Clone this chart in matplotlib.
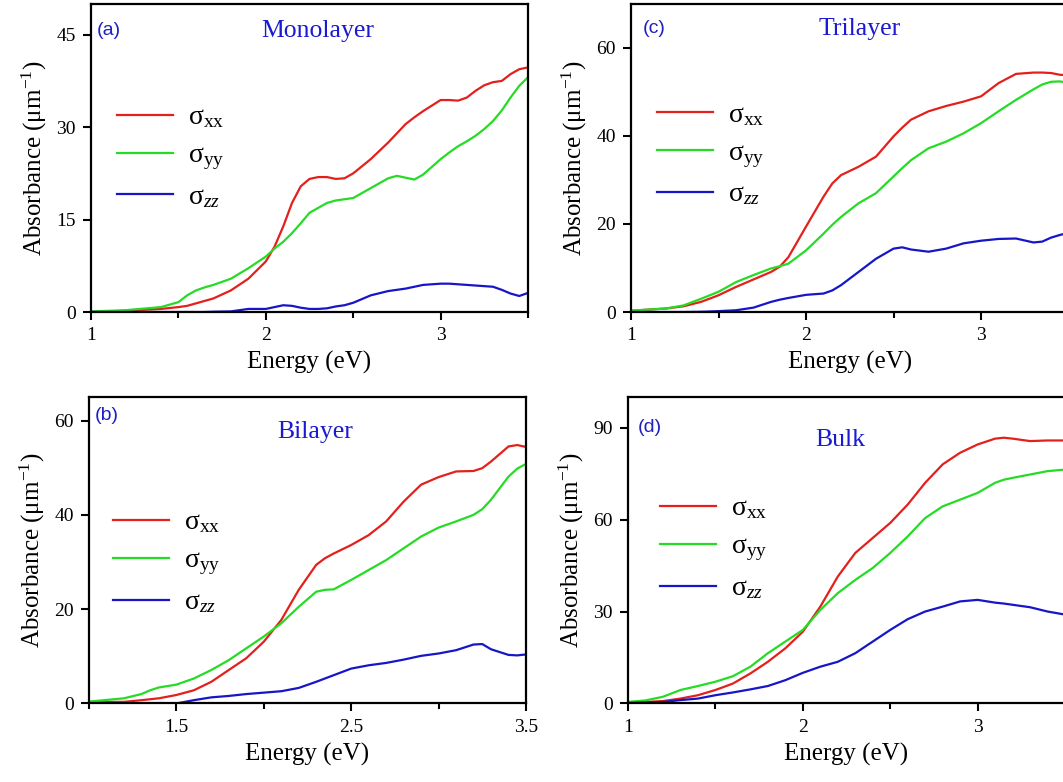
import numpy as np
import matplotlib
matplotlib.use("Agg")
import matplotlib.pyplot as plt
from matplotlib.ticker import MultipleLocator

plt.rcParams['font.family'] = ['Liberation Serif', 'DejaVu Serif']
plt.rcParams['mathtext.fontset'] = 'custom'
plt.rcParams['mathtext.rm'] = 'Liberation Serif'
plt.rcParams['mathtext.it'] = 'Liberation Serif:italic'
plt.rcParams['mathtext.bf'] = 'Liberation Serif:bold'

# ---- data (energy in eV, absorbance in um^-1) ----
# (a) monolayer
mono_e = [1.0, 1.2, 1.4, 1.5, 1.55, 1.6, 1.65, 1.7, 1.8, 1.9, 2.0, 2.05, 2.1, 2.15, 2.2, 2.25,
          2.3, 2.35, 2.4, 2.45, 2.5, 2.6, 2.7, 2.75, 2.8, 2.85, 2.9, 3.0, 3.05, 3.1, 3.15,
          3.2, 3.25, 3.3, 3.35, 3.4, 3.45, 3.5]
mono_xx = [0.0, 0.2, 0.5, 0.8, 1.0, 1.4, 1.8, 2.2, 3.5, 5.4, 8.2, 10.6, 13.9, 17.7, 20.4, 21.6,
           21.9, 21.9, 21.6, 21.7, 22.5, 24.8, 27.5, 29.0, 30.5, 31.6, 32.6, 34.4, 34.4, 34.3, 34.8,
           35.9, 36.8, 37.3, 37.5, 38.6, 39.4, 39.7]
mono_yy = [0.1, 0.3, 0.8, 1.6, 2.7, 3.5, 4.0, 4.4, 5.4, 7.1, 9.0, 10.3, 11.4, 12.8, 14.4, 16.1,
           16.9, 17.7, 18.1, 18.3, 18.5, 20.1, 21.7, 22.1, 21.8, 21.5, 22.3, 24.8, 25.9, 26.9, 27.7,
           28.6, 29.7, 31.0, 32.7, 34.8, 36.7, 38.1]
mono_zz = [0.0, 0.0, 0.0, 0.0, 0.0, 0.0, 0.0, 0.05, 0.1, 0.5, 0.5, 0.8, 1.1, 1.0, 0.7, 0.5,
           0.5, 0.6, 0.9, 1.1, 1.5, 2.7, 3.4, 3.6, 3.8, 4.1, 4.4, 4.6, 4.6, 4.5, 4.4,
           4.3, 4.2, 4.1, 3.6, 3.0, 2.6, 3.1]

# (b) bilayer
bi_e = [1.0, 1.2, 1.3, 1.35, 1.4, 1.5, 1.6, 1.7, 1.8, 1.9, 2.0, 2.1, 2.2, 2.3, 2.35, 2.4,
        2.5, 2.6, 2.7, 2.8, 2.9, 3.0, 3.1, 3.2, 3.25, 3.3, 3.4, 3.45, 3.5]
bi_xx = [0.3, 0.35, 0.7, 0.9, 1.1, 1.8, 2.8, 4.6, 7.1, 9.6, 13.1, 17.7, 24.1, 29.4, 30.8, 31.8,
         33.6, 35.7, 38.6, 42.8, 46.4, 48.0, 49.2, 49.3, 49.9, 51.3, 54.5, 54.8, 54.4]
bi_yy = [0.4, 1.1, 2.0, 2.8, 3.4, 4.0, 5.3, 7.1, 9.2, 11.7, 14.2, 17.0, 20.5, 23.7, 24.1, 24.2,
         26.2, 28.3, 30.4, 32.9, 35.4, 37.3, 38.6, 40.0, 41.2, 43.2, 48.1, 49.8, 50.8]
bi_zz = [0.0, 0.0, 0.0, 0.0, 0.0, 0.0, 0.7, 1.3, 1.6, 2.0, 2.3, 2.6, 3.3, 4.6, 5.3, 6.0,
         7.4, 8.1, 8.6, 9.3, 10.1, 10.6, 11.3, 12.5, 12.6, 11.5, 10.3, 10.2, 10.4]

# (c) trilayer
tri_e = [1.0, 1.2, 1.3, 1.4, 1.5, 1.6, 1.7, 1.8, 1.85, 1.9, 2.0, 2.1, 2.15, 2.2, 2.3, 2.4,
         2.5, 2.55, 2.6, 2.7, 2.8, 2.9, 3.0, 3.1, 3.2, 3.3, 3.35, 3.4, 3.45, 3.5]
tri_xx = [0.3, 0.8, 1.3, 2.3, 3.8, 5.7, 7.4, 9.1, 10.3, 12.5, 19.4, 26.2, 29.2, 31.1, 33.0, 35.3,
          39.9, 41.9, 43.7, 45.6, 46.8, 47.8, 49.0, 52.0, 54.1, 54.4, 54.4, 54.3, 53.9, 53.8]
tri_yy = [0.3, 0.8, 1.5, 3.0, 4.6, 6.8, 8.4, 9.9, 10.4, 11.0, 14.0, 17.8, 19.8, 21.6, 24.7, 27.0,
          30.8, 32.7, 34.5, 37.2, 38.7, 40.6, 42.9, 45.6, 48.2, 50.6, 51.7, 52.3, 52.4, 52.0]
tri_zz = [0.0, 0.0, 0.0, 0.05, 0.2, 0.4, 1.0, 2.3, 2.8, 3.2, 3.9, 4.2, 4.9, 6.1, 9.1, 12.1,
          14.4, 14.7, 14.2, 13.7, 14.4, 15.6, 16.2, 16.6, 16.7, 15.8, 16.0, 16.9, 17.5, 18.0]

# (d) bulk
bulk_e = [1.0, 1.1, 1.2, 1.3, 1.4, 1.5, 1.6, 1.7, 1.8, 1.9, 2.0, 2.1, 2.2, 2.3, 2.4, 2.5,
          2.6, 2.7, 2.8, 2.9, 3.0, 3.1, 3.15, 3.2, 3.3, 3.4, 3.5]
bulk_xx = [0.3, 0.5, 0.8, 1.6, 2.7, 4.4, 6.5, 9.8, 13.6, 18.0, 23.4, 31.6, 41.4, 49.1, 54.0, 58.9,
           64.9, 72.0, 78.0, 81.8, 84.5, 86.4, 86.7, 86.4, 85.6, 85.8, 85.8]
bulk_yy = [0.5, 1.0, 2.2, 4.4, 5.7, 7.1, 8.9, 12.0, 16.4, 20.2, 24.0, 30.5, 36.0, 40.3, 44.2, 49.1,
           54.5, 60.5, 64.3, 66.5, 68.7, 72.0, 73.0, 73.6, 74.7, 75.8, 76.3]
bulk_zz = [0.2, 0.3, 0.5, 1.1, 1.6, 2.7, 3.6, 4.6, 5.7, 7.6, 10.0, 12.0, 13.6, 16.4, 20.2, 24.0,
           27.5, 30.0, 31.6, 33.3, 33.8, 32.9, 32.6, 32.2, 31.4, 30.0, 29.0]

series_labels = ['σ$_{\\rm xx}$', 'σ$_{\\rm yy}$', 'σ$_{zz}$']
colors = ['#e3201b', '#25dc25', '#1616c8']

panels = [
    # e, xx, yy, zz, tag, name, ylim, ystep, rect, tag_xy, name_xy, legend anchor, major x
    (mono_e, mono_xx, mono_yy, mono_zz, '(a)', 'Monolayer', 50, 15,
     [0.0856, 0.601, 0.4111, 0.394], (0.014, 0.915), (0.52, 0.912), (0.034, 0.708), 'int'),
    (tri_e, tri_xx, tri_yy, tri_zz, '(c)', 'Trilayer', 70, 20,
     [0.5936, 0.601, 0.4116, 0.394], (0.028, 0.92), (0.523, 0.918), (0.034, 0.717), 'int'),
    (bi_e, bi_xx, bi_yy, bi_zz, '(b)', 'Bilayer', 65, 20,
     [0.0837, 0.1004, 0.4111, 0.392], (0.014, 0.94), (0.517, 0.886), (0.03, 0.667), 'half'),
    (bulk_e, bulk_xx, bulk_yy, bulk_zz, '(d)', 'Bulk', 100, 30,
     [0.5908, 0.1004, 0.4111, 0.392], (0.022, 0.9), (0.485, 0.86), (0.048, 0.713), 'int'),
]

fig = plt.figure(figsize=(10.63, 7.82), dpi=100)

for e, xx, yy, zz, tag, name, ymax, ystep, rect, tag_xy, name_xy, leg_xy, xmode in panels:
    ax = fig.add_axes(rect)
    for vals, lab, c in zip([xx, yy, zz], series_labels, colors):
        ax.plot(e, vals, color=c, lw=1.6, label=lab)

    ax.set_xlim(1, 3.5)
    ax.set_ylim(0, ymax)
    if xmode == 'int':
        ax.xaxis.set_major_locator(MultipleLocator(1))
        ax.xaxis.set_minor_locator(MultipleLocator(0.5))
    else:
        ax.set_xticks([1.5, 2.5, 3.5])
        ax.set_xticks([1.0, 2.0, 3.0], minor=True)
    ax.yaxis.set_major_locator(MultipleLocator(ystep))

    ax.tick_params(axis='both', which='major', direction='out', length=6, width=1.5,
                   labelsize=14, pad=5)
    ax.tick_params(axis='x', which='minor', direction='out', length=4, width=1.5)
    ax.tick_params(axis='x', which='major', pad=5)
    for sp in ax.spines.values():
        sp.set_linewidth(1.6)

    ax.set_xlabel('Energy (eV)', fontsize=18, labelpad=5)
    ax.set_ylabel('Absorbance (μm$^{-1}$)', fontsize=18, labelpad=5)

    ax.text(tag_xy[0], tag_xy[1], tag, transform=ax.transAxes, color='#2020c0',
            fontsize=14, family=['Liberation Sans', 'DejaVu Sans'], va='center', ha='left')
    ax.text(name_xy[0], name_xy[1], name, transform=ax.transAxes, color='#1a1ad0',
            fontsize=18.5, va='center', ha='center')

    ax.legend(loc='upper left', bbox_to_anchor=leg_xy, frameon=False, fontsize=20,
              handlelength=2.0, handletextpad=0.55, labelspacing=0.45, borderaxespad=0)

fig.savefig('out.png', dpi=100)
